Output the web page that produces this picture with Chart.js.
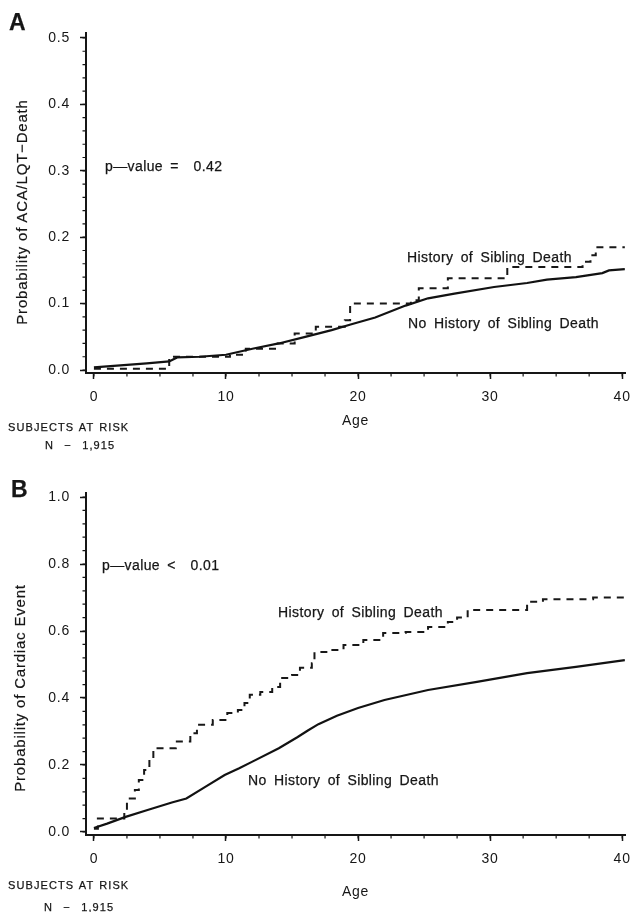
<!DOCTYPE html>
<html>
<head>
<meta charset="utf-8">
<script src="https://cdn.jsdelivr.net/npm/chart.js@4.4.1/dist/chart.umd.min.js"></script>
<style>
  body { margin: 0; background: #fff; }
  #page { position: relative; width: 640px; height: 912px; overflow: hidden;
          font-family: "Liberation Sans", Arial, sans-serif; color: #161616; }
  canvas { position: absolute; left: 0; }
  .lbl { position: absolute; white-space: pre; line-height: 1; transform: translateY(-50%);
         font-size: 14px; letter-spacing: 0.4px; word-spacing: 3px; -webkit-text-stroke: 0.25px #161616; }
  .big { font-size: 23px; font-weight: bold; letter-spacing: 0; }
  .risk { font-size: 11px; letter-spacing: 1.1px; word-spacing: 1px; }
  .ytitle { position: absolute; white-space: pre; line-height: 1; font-size: 15px; letter-spacing: 0.8px;
            transform: translate(-50%, -50%) rotate(-90deg); -webkit-text-stroke: 0.2px #161616; }
</style>
</head>
<body>
<div id="page">
  <canvas id="chartA" width="640" height="455" style="top:0"></canvas>
  <canvas id="chartB" width="640" height="452" style="top:460px"></canvas>

  <div class="lbl big" style="left:9px;top:22px">A</div>
  <div class="ytitle" style="left:21px;top:212px">Probability of ACA/LQT−Death</div>
  <div class="lbl" style="left:105px;top:166px">p—value =  0.42</div>
  <div class="lbl" style="left:407px;top:257px">History of Sibling Death</div>
  <div class="lbl" style="left:408px;top:323px">No History of Sibling Death</div>
  <div class="lbl risk" style="left:8px;top:427px">SUBJECTS AT RISK</div>
  <div class="lbl risk" style="left:45px;top:445px">N  −  1,915</div>

  <div class="lbl big" style="left:11px;top:489px">B</div>
  <div class="ytitle" style="left:19px;top:688px">Probability of Cardiac Event</div>
  <div class="lbl" style="left:102px;top:565px">p—value <  0.01</div>
  <div class="lbl" style="left:278px;top:612px">History of Sibling Death</div>
  <div class="lbl" style="left:248px;top:780px">No History of Sibling Death</div>
  <div class="lbl risk" style="left:8px;top:885px">SUBJECTS AT RISK</div>
  <div class="lbl risk" style="left:44px;top:907px">N  −  1,915</div>
</div>

<script>
// ---- data ----
const xTickValues = [0, 10, 20, 30, 40];
const yTicksA = [0, 0.1, 0.2, 0.3, 0.4, 0.5];
const yTicksB = [0, 0.2, 0.4, 0.6, 0.8, 1.0];

// Panel A: ACA/LQT-death
const ageNoHistA  = [0, 2, 4, 5.7, 6.3, 8, 10, 12, 14, 16, 18, 19.5, 21.3, 23.6, 25.3, 27.3, 30.3, 32.8, 34.3, 36.5, 38.5, 39, 40.2];
const probNoHistA = [0.004, 0.007, 0.010, 0.013, 0.019, 0.020, 0.023, 0.032, 0.040, 0.050, 0.060, 0.069, 0.079, 0.097, 0.108, 0.115, 0.125, 0.131, 0.136, 0.140, 0.146, 0.150, 0.152];
const ageHistA    = [0, 5.7, 10.3, 11.5, 13.8, 15.2, 16.8, 19, 19.4, 24, 24.6, 26.8, 31.3, 37, 37.6, 38, 40.2];
const probHistA   = [0.002, 0.020, 0.023, 0.032, 0.040, 0.055, 0.065, 0.075, 0.100, 0.105, 0.123, 0.138, 0.155, 0.163, 0.173, 0.185, 0.185];

// Panel B: cardiac event
const ageNoHistB  = [0, 1, 2.4, 4, 5.9, 7, 8.4, 9.9, 11, 12, 14, 15.4, 16.2, 17, 18.4, 20, 22, 25.3, 29, 32.8, 36.5, 40.2];
const probNoHistB = [0.012, 0.025, 0.045, 0.065, 0.088, 0.100, 0.134, 0.170, 0.190, 0.210, 0.250, 0.283, 0.303, 0.322, 0.347, 0.370, 0.394, 0.424, 0.448, 0.474, 0.493, 0.513];
const ageHistB    = [0, 0.3, 2.3, 2.5, 3.1, 3.4, 3.8, 4.2, 4.5, 6.2, 7.3, 7.8, 9, 10.1, 10.9, 11.4, 11.8, 12.6, 13.5, 14.1, 15, 15.6, 16.5, 16.7, 17.6, 18.9, 20.4, 21.9, 23.6, 25.3, 26.8, 27.5, 28.3, 32.8, 34, 37.8, 40.2];
const probHistB   = [0.010, 0.040, 0.066, 0.100, 0.125, 0.155, 0.185, 0.215, 0.250, 0.270, 0.295, 0.320, 0.334, 0.355, 0.364, 0.385, 0.410, 0.418, 0.433, 0.460, 0.469, 0.490, 0.504, 0.537, 0.543, 0.558, 0.573, 0.594, 0.597, 0.612, 0.627, 0.640, 0.663, 0.687, 0.695, 0.700, 0.700];

const FONT = '"Liberation Sans", Arial, sans-serif';
const INK = '#161616';

function toPoints(xs, ys) {
    return xs.map((x, i) => ({ x: x, y: ys[i] }));
}

// short unlabelled ticks between the major ones
const minorTicks = {
    id: 'minorTicks',
    beforeDraw(chart) {
        // old plotter lettering is a little wider than Arial
        chart.ctx.letterSpacing = '0.8px';
    },
    afterDraw(chart, args, opts) {
        const ctx = chart.ctx, xs = chart.scales.x, ys = chart.scales.y;
        ctx.save();
        ctx.strokeStyle = INK;
        ctx.lineWidth = 1.2;
        ctx.beginPath();
        for (let v = 0; v <= xs.max + 1e-9; v += opts.x) {
            const px = xs.getPixelForValue(v);
            ctx.moveTo(px, xs.top);
            ctx.lineTo(px, xs.top + 3.5);
        }
        for (let v = 0; v <= ys.max + 1e-9; v += opts.y) {
            const py = ys.getPixelForValue(v);
            ctx.moveTo(ys.right, py);
            ctx.lineTo(ys.right - 3.5, py);
        }
        ctx.stroke();
        ctx.restore();
    }
};

function survivalChart(id, cfg) {
    return new Chart(document.getElementById(id), {
        type: 'line',
        data: {
            datasets: [
                {
                    label: 'No History of Sibling Death',
                    data: toPoints(cfg.ageNo, cfg.probNo),
                    borderColor: '#121212',
                    borderWidth: 2.2,
                    pointRadius: 0,
                    tension: 0
                },
                {
                    label: 'History of Sibling Death',
                    data: toPoints(cfg.ageHist, cfg.probHist),
                    borderColor: '#181818',
                    borderWidth: 2,
                    borderDash: [7, 6],
                    stepped: true,
                    pointRadius: 0
                }
            ]
        },
        options: {
            responsive: false,
            animation: false,
            layout: { padding: { top: 33, right: 7, left: 0, bottom: 0 } },
            plugins: {
                legend: { display: false },
                tooltip: { enabled: false },
                minorTicks: { x: 2.5, y: cfg.yMinor }
            },
            scales: {
                x: {
                    type: 'linear',
                    min: -0.6,
                    max: 40.22,
                    afterBuildTicks: s => { s.ticks = xTickValues.map(v => ({ value: v })); },
                    afterFit: s => { s.height = cfg.xHeight; },
                    grid: { drawOnChartArea: false, drawTicks: true, tickLength: 6, tickColor: INK, tickWidth: 1.5 },
                    border: { color: INK, width: 2 },
                    ticks: { color: INK, font: { family: FONT, size: 14 }, padding: 10, maxRotation: 0, callback: v => String(v) },
                    title: { display: true, text: 'Age', color: INK, font: { family: FONT, size: 14 }, padding: { top: 0, bottom: cfg.agePad } }
                },
                y: {
                    min: cfg.yMin,
                    max: cfg.yMax,
                    afterBuildTicks: s => { s.ticks = cfg.yTicks.map(v => ({ value: v })); },
                    afterFit: s => { s.width = 86; },
                    grid: { drawOnChartArea: false, drawTicks: true, tickLength: 6, tickColor: INK, tickWidth: 1.5 },
                    border: { color: INK, width: 2 },
                    ticks: { color: INK, font: { family: FONT, size: 14 }, padding: 10, callback: v => v.toFixed(1) },
                    title: { display: false }
                }
            }
        },
        plugins: [minorTicks]
    });
}

survivalChart('chartA', {
    ageNo: ageNoHistA, probNo: probNoHistA,
    ageHist: ageHistA, probHist: probHistA,
    yTicks: yTicksA, yMin: -0.0045, yMax: 0.5075, yMinor: 0.02,
    xHeight: 82, agePad: 25
});

survivalChart('chartB', {
    ageNo: ageNoHistB, probNo: probNoHistB,
    ageHist: ageHistB, probHist: probHistB,
    yTicks: yTicksB, yMin: -0.009, yMax: 1.012, yMinor: 0.04,
    xHeight: 77, agePad: 11
});
</script>
</body>
</html>
